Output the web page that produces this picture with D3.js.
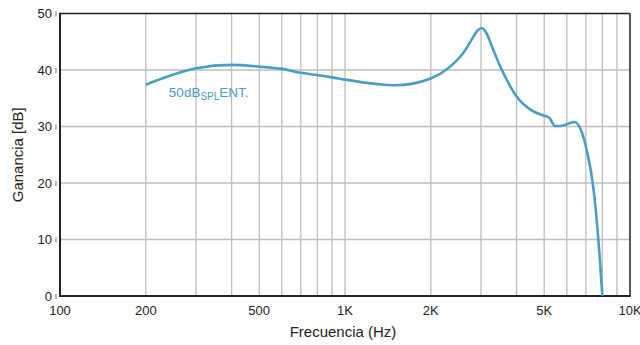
<!DOCTYPE html>
<html>
<head>
<meta charset="utf-8">
<script src="https://cdn.jsdelivr.net/npm/d3@7"></script>
<style>
  body { margin: 0; background: #fff; }
  text { font-family: "Liberation Sans", Arial, sans-serif; }
</style>
</head>
<body>
<svg id="svg1"></svg>
<script>

var margin = {top: 13.5, right: 10, bottom: 49, left: 60};
var width = 570;
var height = 282.5;

// frequency response (Hz, dB)
var freqs = [200, 250, 300, 400, 500, 600, 700, 800, 900, 1000, 1300, 1500, 2000, 2300, 2600,
             2800, 2930, 3030, 3150, 3300, 3500, 3800, 4000, 4500, 5000, 5200, 5450, 5700, 6000, 6400,
             6700, 7000, 7500, 7800, 8000];
var gains = [37.4, 39.2, 40.3, 40.9, 40.6, 40.2, 39.5, 39.1, 38.7, 38.3, 37.5, 37.3, 38.5, 40.3, 43.0,
             45.6, 47.1, 47.4, 46.3, 43.8, 40.7, 37.1, 35.3, 32.9, 31.9, 31.6, 30.1, 30.1, 30.4, 30.8,
             29.6, 26.5, 17.6, 8.0, 0];

var xTicks = [100, 200, 500, 1000, 2000, 5000, 10000];
var xTickLabels = ["100", "200", "500", "1K", "2K", "5K", "10K"];
var xGrid = [200, 300, 400, 500, 600, 700, 800, 900, 1000, 2000, 3000, 4000, 5000, 6000, 7000, 8000, 9000];
var yTicks = [0, 10, 20, 30, 40, 50];
var yGrid = [10, 20, 30, 40];

var svg = d3.select("#svg1")
    .attr("width", 640)
    .attr("height", 345)
  .append("g")
    .attr("transform", "translate(" + margin.left + "," + margin.top + ")");

var x = d3.scaleLog()
    .domain([100, 10000])
    .range([0, width]);

var y = d3.scaleLinear()
    .domain([0, 50])
    .range([height, 0]);

// grid
svg.append("g")
  .selectAll("line")
  .data(xGrid)
  .enter()
  .append("line")
    .attr("x1", function (d) { return x(d); })
    .attr("x2", function (d) { return x(d); })
    .attr("y1", 0)
    .attr("y2", height)
    .style("stroke", "#bdbdbd")
    .style("stroke-width", 1.3);

svg.append("g")
  .selectAll("line")
  .data(yGrid)
  .enter()
  .append("line")
    .attr("x1", 0)
    .attr("x2", width)
    .attr("y1", function (d) { return y(d); })
    .attr("y2", function (d) { return y(d); })
    .style("stroke", "#bdbdbd")
    .style("stroke-width", 1.3);

// frame
svg.append("line").attr("x1", 0).attr("x2", width).attr("y1", 0).attr("y2", 0)
    .style("stroke", "#222").style("stroke-width", 1.5);
svg.append("line").attr("x1", width).attr("x2", width).attr("y1", 0).attr("y2", height)
    .style("stroke", "#222").style("stroke-width", 1.5);
svg.append("line").attr("x1", 0).attr("x2", 0).attr("y1", -0.7).attr("y2", height + 1)
    .style("stroke", "#222").style("stroke-width", 2);
svg.append("line").attr("x1", -1).attr("x2", width + 0.7).attr("y1", height).attr("y2", height)
    .style("stroke", "#222").style("stroke-width", 2);

// y tick labels
var yAxis = svg.append("g");
yAxis.selectAll("text")
  .data(yTicks)
  .enter()
  .append("text")
    .attr("x", -8)
    .attr("y", function (d) { return y(d) + 4.5; })
    .attr("text-anchor", "end")
    .style("font-size", "13px")
    .style("fill", "#222")
    .text(function (d) { return d; });
yAxis.selectAll("line")
  .data(yTicks)
  .enter()
  .append("line")
    .attr("x1", -4).attr("x2", -4)
    .attr("y1", function (d) { return y(d) - 2; })
    .attr("y2", function (d) { return y(d) + 3; })
    .style("stroke", "#555")
    .style("stroke-width", 0.8);

// x tick labels
svg.append("g")
  .selectAll("text")
  .data(xTicks)
  .enter()
  .append("text")
    .attr("x", function (d) { return x(d); })
    .attr("y", height + 19)
    .attr("text-anchor", "middle")
    .style("font-size", "13px")
    .style("fill", "#222")
    .text(function (d, i) { return xTickLabels[i]; });

// axis titles
svg.append("text")
    .attr("x", width / 2 - 2)
    .attr("y", height + 41)
    .attr("text-anchor", "middle")
    .style("font-size", "15px")
    .style("fill", "#222")
    .text("Frecuencia (Hz)");

svg.append("text")
    .attr("transform", "translate(-37," + (height / 2) + ") rotate(-90)")
    .attr("text-anchor", "middle")
    .style("font-size", "15px")
    .style("fill", "#222")
    .text("Ganancia [dB]");

// curve
var line = d3.line()
    .x(function (d, i) { return x(freqs[i]); })
    .y(function (d) { return y(d); })
    .curve(d3.curveMonotoneX);

svg.append("path")
    .datum(gains)
    .attr("d", line)
    .style("fill", "none")
    .style("stroke", "#4a9dc3")
    .style("stroke-width", 2.6);

// curve label
var lbl = svg.append("text")
    .attr("x", x(241))
    .attr("y", y(35.5) + 2)
    .style("font-size", "13.5px")
    .style("fill", "#4a9dc3");
lbl.append("tspan").text("50dB");
lbl.append("tspan").attr("dy", 3).style("font-size", "10px").text("SPL");
lbl.append("tspan").attr("dy", -3).text("ENT.");

</script>
</body>
</html>
